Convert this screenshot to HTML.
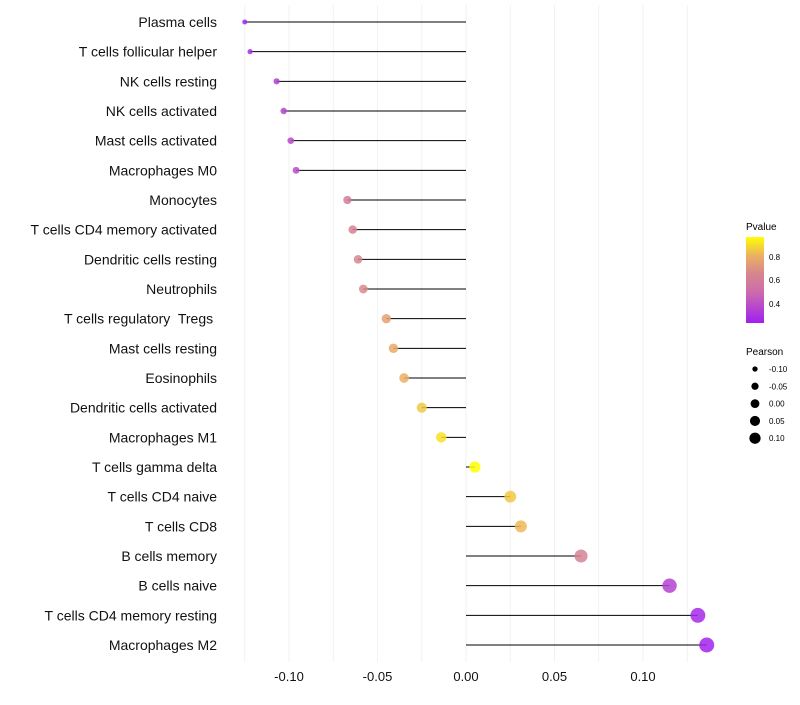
<!DOCTYPE html>
<html><head><meta charset="utf-8"><style>
body{margin:0;background:#fff;font-family:"Liberation Sans",sans-serif}
text{white-space:pre}
</style></head><body>
<svg id="chart" width="800" height="700" xmlns="http://www.w3.org/2000/svg" font-family="Liberation Sans, sans-serif">
<defs><linearGradient id="pg" x1="0" y1="1" x2="0" y2="0">
<stop offset="0" stop-color="#a020f0"/><stop offset="0.37" stop-color="#cd6eaa"/><stop offset="0.58" stop-color="#d7878c"/><stop offset="0.78" stop-color="#ebaf64"/><stop offset="1" stop-color="#ffff00"/></linearGradient></defs>
<g id="grid"></g>
<g id="marks"></g>
<g id="legend">
<text x="746" y="230" font-size="10">Pvalue</text>
<rect x="746" y="237" width="18" height="86" fill="url(#pg)"/>
<text x="769" y="260" font-size="8">0.8</text>
<text x="769" y="283" font-size="8">0.6</text>
<text x="769" y="307" font-size="8">0.4</text>
<text x="746" y="355" font-size="10">Pearson</text>
</g>
</svg>
<script>
const cells=["Plasma cells","T cells follicular helper","NK cells resting","NK cells activated","Mast cells activated","Macrophages M0","Monocytes","T cells CD4 memory activated","Dendritic cells resting","Neutrophils","T cells regulatory  Tregs ","Mast cells resting","Eosinophils","Dendritic cells activated","Macrophages M1","T cells gamma delta","T cells CD4 naive","T cells CD8","B cells memory","B cells naive","T cells CD4 memory resting","Macrophages M2"];
const pearson=[-0.125,-0.122,-0.107,-0.103,-0.099,-0.096,-0.067,-0.064,-0.061,-0.058,-0.045,-0.041,-0.035,-0.025,-0.014,0.005,0.025,0.031,0.065,0.115,0.131,0.136];
const pvalue=[0.25,0.27,0.33,0.35,0.37,0.38,0.6,0.62,0.64,0.66,0.75,0.78,0.8,0.85,0.9,0.96,0.85,0.82,0.62,0.35,0.26,0.24];
const xTicks=[-0.10,-0.05,0.00,0.05,0.10];
const xTickLabels=["-0.10","-0.05","0.00","0.05","0.10"];
const legendSizes=[-0.10,-0.05,0.00,0.05,0.10];
const legendSizeLabels=["-0.10","-0.05","0.00","0.05","0.10"];

const NS="http://www.w3.org/2000/svg";
const x=v=>466+v*1770;
const y=i=>22+i*29.667;
const r=v=>{const t=Math.max(0,(v+0.125)/0.261);return Math.sqrt(6.25+(56.25-6.25)*t);};
const stops=[[0,[160,32,240]],[0.37,[205,110,170]],[0.58,[215,135,140]],[0.78,[235,175,100]],[1,[255,255,0]]];
function col(p){
 const t=Math.max(0,Math.min(1,(p-0.23)/0.73));
 for(let k=1;k<stops.length;k++){
  if(t<=stops[k][0]){const [t0,a]=stops[k-1],[t1,b]=stops[k];const u=(t-t0)/(t1-t0);
   return `rgb(${a.map((v,j)=>Math.round(v+(b[j]-v)*u)).join(",")})`;}
 }
 return 'rgb(255,255,0)';
}
function mk(tag,attrs,parent){const e=document.createElementNS(NS,tag);for(const k in attrs)e.setAttribute(k,attrs[k]);parent.appendChild(e);return e;}
const grid=document.getElementById('grid'),marks=document.getElementById('marks'),legend=document.getElementById('legend');
for(let v=-0.125;v<=0.1376;v+=0.025){
 const l=mk('line',{x1:x(v),x2:x(v),y1:5,y2:662,stroke:'#f2f2f2','stroke-width':1},grid);
 
 
}
xTicks.forEach((v,i)=>{
 const t=mk('text',{x:x(v),y:681,'font-size':13,'text-anchor':'middle',fill:'#111'},grid);
 t.textContent=xTickLabels[i];
 
 
});
cells.forEach((c,i)=>{
 const t=mk('text',{x:217,y:y(i)+5,'font-size':14,'text-anchor':'end',fill:'#111'},grid);
 t.textContent=c;
 
 
 const l=mk('line',{x1:x(0),x2:x(pearson[i]),y1:y(i),y2:y(i),stroke:'#000','stroke-width':1},marks);
 
 
 const d=mk('circle',{cx:x(pearson[i]),cy:y(i),r:r(pearson[i]),fill:col(pvalue[i]),'fill-opacity':0.85},marks);
 
 
});
legendSizes.forEach((v,i)=>{
 const cy=369+i*17.3;
 const d=mk('circle',{cx:755,cy:cy,r:Math.max(2.5,r(v)*0.8),fill:'#000'},legend);
 
 
 const t=mk('text',{x:769,y:cy+3,'font-size':8},legend);
 t.textContent=legendSizeLabels[i];
 
 
});
</script>
</body></html>
